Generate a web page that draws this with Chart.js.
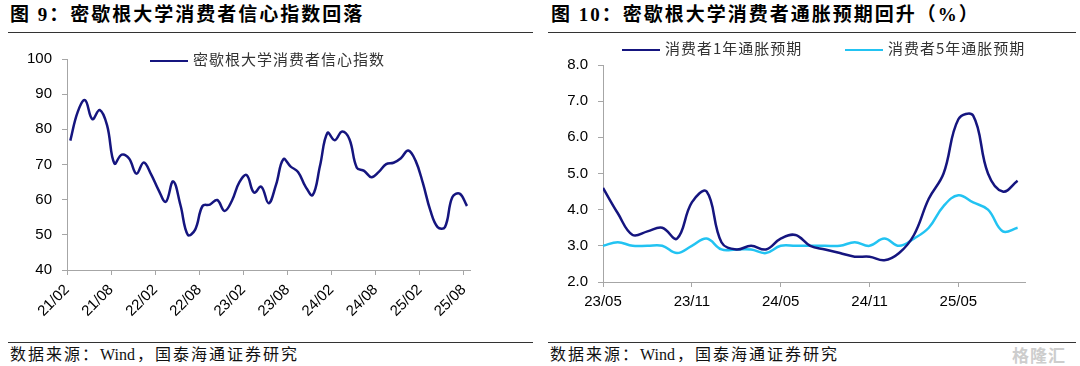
<!DOCTYPE html>
<html lang="zh-CN">
<head>
<meta charset="utf-8">
<script src="https://cdn.jsdelivr.net/npm/chart.js@4.4.1/dist/chart.umd.min.js"></script>
<style>
  body { margin: 0; width: 1080px; height: 366px; background: #fff; position: relative; overflow: hidden; }
  .title { position: absolute; top: 4px; font: bold 19px "Liberation Serif", "Noto Sans CJK SC"; letter-spacing: 2px; color: #000; white-space: nowrap; line-height: 22px; }
  .rule { position: absolute; height: 0; border-top: 1.5px solid #333; }
  .src { position: absolute; top: 345px; font: 16px "Liberation Serif", "Noto Sans CJK SC"; letter-spacing: 2px; color: #111; white-space: nowrap; line-height: 20px; }
  .src b { font-weight: normal; letter-spacing: 0; margin-right: 2px; }
  .box { position: absolute; top: 36px; width: 540px; height: 300px; }
  .leg { position: absolute; font: 15px "Noto Sans CJK SC"; letter-spacing: 1px; color: #333; white-space: nowrap; line-height: 18px; }
  .leg i { display: inline-block; width: 38px; height: 0; border-top: 2.5px solid; vertical-align: middle; margin-right: 5px; }
  .mark { position: absolute; left: 1012px; top: 342px; font: bold 17px "Noto Sans CJK SC"; color: #cdcdcd; letter-spacing: 1px; }
</style>
</head>
<body>
<div class="title" style="left:10px">图 9：密歇根大学消费者信心指数回落</div>
<div class="rule" style="left:8px; top:32px; width:525px"></div>
<div class="title" style="left:551px">图 10：密歇根大学消费者通胀预期回升（%）</div>
<div class="rule" style="left:548px; top:32px; width:528px"></div>

<div class="box" style="left:0"><canvas id="sentChart" width="540" height="300"></canvas></div>
<div class="box" style="left:540px"><canvas id="inflChart" width="540" height="300"></canvas></div>

<div class="leg" style="left:150px; top:50px"><i style="color:#15157f"></i>密歇根大学消费者信心指数</div>
<div class="leg" style="left:622px; top:39px"><i style="color:#15157f"></i>消费者1年通胀预期</div>
<div class="leg" style="left:845px; top:39px"><i style="color:#22c3f2"></i>消费者5年通胀预期</div>

<div class="rule" style="left:8px; top:342px; width:525px; border-top-width:1px"></div>
<div class="rule" style="left:548px; top:342px; width:528px; border-top-width:1px"></div>
<div class="src" style="left:10px">数据来源：<b>Wind</b>，国泰海通证券研究</div>
<div class="src" style="left:550px">数据来源：<b>Wind</b>，国泰海通证券研究</div>
<div class="mark">格隆汇</div>

<script>
// left chart: consumer sentiment, monthly
const sentMonths = [
  '21/02','21/03','21/04','21/05','21/06','21/07','21/08','21/09','21/10','21/11','21/12',
  '22/01','22/02','22/03','22/04','22/05','22/06','22/07','22/08','22/09','22/10','22/11','22/12',
  '23/01','23/02','23/03','23/04','23/05','23/06','23/07','23/08','23/09','23/10','23/11','23/12',
  '24/01','24/02','24/03','24/04','24/05','24/06','24/07','24/08','24/09','24/10','24/11','24/12',
  '25/01','25/02','25/03','25/04','25/05','25/06','25/07','25/08'
];
const sentiment = [
  76.8, 84.9, 88.3, 82.9, 85.5, 81.2, 70.3, 72.8, 71.7, 67.4, 70.6,
  67.2, 62.8, 59.4, 65.2, 58.4, 50.0, 51.5, 58.2, 58.6, 59.9, 56.8, 59.7,
  64.9, 67.0, 62.0, 63.7, 59.0, 64.2, 71.5, 69.4, 67.9, 63.8, 61.3, 69.7,
  79.0, 76.9, 79.4, 77.2, 69.1, 68.2, 66.4, 67.9, 70.1, 70.5, 71.8, 74.0,
  71.1, 64.7, 57.0, 52.2, 52.2, 60.7, 61.7, 58.2
];
const sentTicks = ['21/02','21/08','22/02','22/08','23/02','23/08','24/02','24/08','25/02','25/08'];

// right chart: inflation expectations (%)
const inflMonths = [
  '23/04','23/05','23/06','23/07','23/08','23/09','23/10','23/11','23/12',
  '24/01','24/02','24/03','24/04','24/05','24/06','24/07','24/08','24/09','24/10','24/11','24/12',
  '25/01','25/02','25/03','25/04','25/05','25/06','25/07','25/08'
];
const oneYear = [
  4.6, 3.9, 3.3, 3.4, 3.5, 3.2, 4.2, 4.5, 3.1,
  2.9, 3.0, 2.9, 3.2, 3.3, 3.0, 2.9, 2.8, 2.7, 2.7, 2.6, 2.8,
  3.3, 4.3, 5.0, 6.5, 6.6, 5.0, 4.5, 4.8
];
const fiveYear = [
  3.0, 3.1, 3.0, 3.0, 3.0, 2.8, 3.0, 3.2, 2.9,
  2.9, 2.9, 2.8, 3.0, 3.0, 3.0, 3.0, 3.0, 3.1, 3.0, 3.2, 3.0,
  3.2, 3.5, 4.1, 4.4, 4.2, 4.0, 3.4, 3.5
];
const inflTicks = ['23/05','23/11','24/05','24/11','25/05'];

const NAVY = '#15157f';
const CYAN = '#22c3f2';
const AXIS = '#a6a6a6';
const TICK_FONT = { family: '"Liberation Sans", Arial, sans-serif', size: 15 };

function points(values) {
  return values.map((v, i) => ({ x: i, y: v }));
}

// data points are stamped part-way into the month, ticks sit at the month start
function tickPositions(labels, months, stamp) {
  return labels.map(l => months.indexOf(l) - stamp);
}

function makeChart(id, datasets, o) {
  const tickPos = tickPositions(o.ticks, o.months, o.stamp);
  return new Chart(document.getElementById(id), {
    type: 'line',
    data: { datasets },
    options: {
      responsive: false,
      animation: false,
      devicePixelRatio: 1,
      layout: { padding: o.padding },
      plugins: { legend: { display: false }, tooltip: { enabled: false } },
      elements: {
        point: { radius: 0 },
        line: { tension: 0.4, borderWidth: 2.5, fill: false }
      },
      scales: {
        x: {
          type: 'linear',
          min: o.xMin,
          max: o.xMax,
          afterBuildTicks: s => { s.ticks = tickPos.map(v => ({ value: v })); },
          afterFit: s => { s.height = o.xHeight; },
          ticks: {
            autoSkip: false,
            callback: (v, i) => o.ticks[i],
            maxRotation: o.rot,
            minRotation: o.rot,
            padding: o.xPad,
            color: '#000',
            font: TICK_FONT
          },
          grid: { drawOnChartArea: false, tickLength: 5, color: AXIS },
          border: { color: AXIS }
        },
        y: {
          min: o.yMin,
          max: o.yMax,
          afterFit: s => { s.width = o.yWidth; },
          ticks: {
            stepSize: o.yStep,
            callback: o.yFormat,
            padding: 10,
            color: '#000',
            font: TICK_FONT
          },
          grid: { drawOnChartArea: false, tickLength: 5, color: AXIS },
          border: { color: AXIS }
        }
      }
    }
  });
}

makeChart('sentChart', [{
  label: '密歇根大学消费者信心指数',
  data: points(sentiment),
  borderColor: NAVY,
  backgroundColor: NAVY
}], {
  months: sentMonths, ticks: sentTicks, stamp: 0.45,
  xMin: -0.45, xMax: 54.41, rot: 45, xPad: 6, xHeight: 66,
  yMin: 40, yMax: 100, yStep: 10, yFormat: v => v, yWidth: 67,
  padding: { left: 0, right: 70, top: 23, bottom: 0 }
});

makeChart('inflChart', [{
  label: '消费者1年通胀预期',
  data: points(oneYear),
  borderColor: NAVY,
  backgroundColor: NAVY
}, {
  label: '消费者5年通胀预期',
  data: points(fiveYear),
  borderColor: CYAN,
  backgroundColor: CYAN
}], {
  months: inflMonths, ticks: inflTicks, stamp: 1,
  xMin: 0, xMax: 28.5, rot: 0, xPad: 6, xHeight: 54,
  yMin: 2, yMax: 8, yStep: 1, yFormat: v => v.toFixed(1), yWidth: 63,
  padding: { left: 0, right: 55, top: 29, bottom: 0 }
});
</script>
</body>
</html>
